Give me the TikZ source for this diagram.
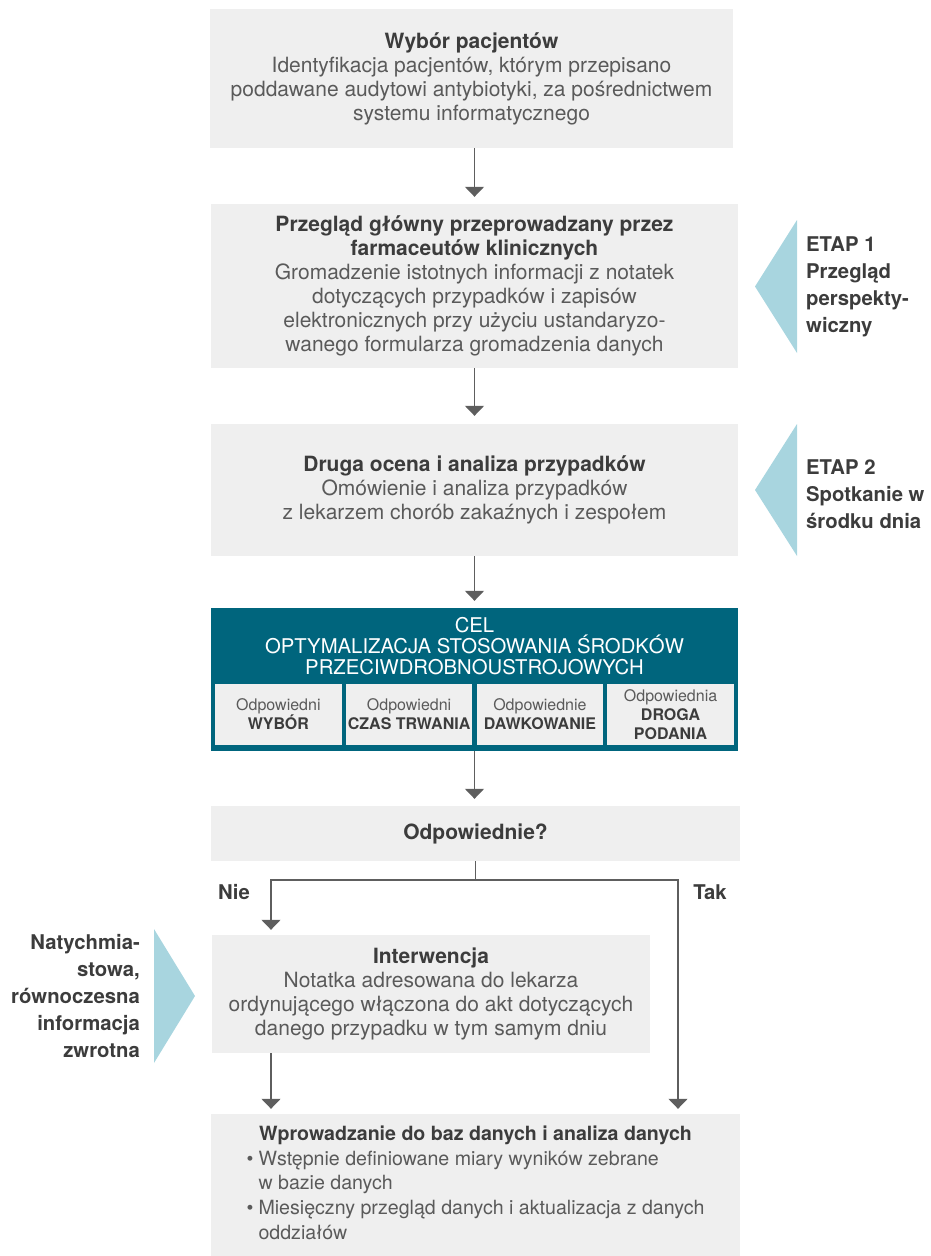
\documentclass[tikz,border=0pt]{standalone}
\usepackage{fontspec}
\setmainfont{TeX Gyre Heros}
\usepackage{xcolor}
\usepackage{tikz}
\usetikzlibrary{positioning,calc,arrows.meta}
\definecolor{boxgray}{HTML}{EFEFEF}
\definecolor{celteal}{HTML}{00657D}
\definecolor{stageblue}{HTML}{A8D5DF}
\definecolor{txtdark}{HTML}{3C3C3C}
\definecolor{txtbody}{HTML}{5A5A5A}
\definecolor{linegray}{HTML}{5E5E5E}
\newcommand{\boxtitle}[1]{{\color{txtdark}\bfseries #1}}

\begin{document}
\begin{tikzpicture}[x=1pt, y=-1pt,
  box/.style={fill=boxgray, inner sep=0pt, align=center, text=txtbody, font=\fontsize{21}{24}\selectfont},
  cell/.style={fill=boxgray, inner sep=0pt, align=center, minimum width=126.75pt, minimum height=61pt, text=txtbody, font=\fontsize{16}{19}\selectfont},
  sidetext/.style={inner sep=0pt, text=txtdark, font=\bfseries\fontsize{20.3}{27}\selectfont},
  flow/.style={draw=linegray, line width=1.4pt, -{Triangle[width=19pt,length=10pt]}, shorten >=7pt}]
  \useasboundingbox (0,0) rectangle (930,1256);

  % Main flow boxes
  \node[box, minimum width=523pt, minimum height=139pt] (pick) at (471.5,78.5)
    {\boxtitle{Wybór pacjentów}\\Identyfikacja pacjentów, którym przepisano\\poddawane audytowi antybiotyki, za pośrednictwem\\systemu informatycznego};
  \node[box, minimum width=527pt, minimum height=164pt] (review) at (474.5,286)
    {\boxtitle{Przegląd główny przeprowadzany przez}\\\boxtitle{farmaceutów klinicznych}\\Gromadzenie istotnych informacji z notatek\\dotyczących przypadków i zapisów\\elektronicznych przy użyciu ustandaryzo-\\wanego formularza gromadzenia danych};
  \node[box, minimum width=527pt, minimum height=132pt] (second) at (474.5,490)
    {\boxtitle{Druga ocena i analiza przypadków}\\Omówienie i analiza przypadków\\z lekarzem chorób zakaźnych i zespołem};

  % Goal block
  \node[fill=celteal, minimum width=527pt, minimum height=143pt, inner sep=0pt] (goal) at (474.5,679.5) {};
  \node[align=center, text=white, inner sep=0pt, font=\fontsize{20.3}{21}\selectfont] (goaltitle) at (474.5,646)
    {CEL\\OPTYMALIZACJA STOSOWANIA ŚRODKÓW\\PRZECIWDROBNOUSTROJOWYCH};
  \foreach \x/\nm/\txt in {278.4/cellA/Odpowiedni\\\boxtitle{WYBÓR},
                           409.1/cellB/Odpowiedni\\\boxtitle{CZAS TRWANIA},
                           539.9/cellC/Odpowiednie\\\boxtitle{DAWKOWANIE},
                           670.6/cellD/Odpowiednia\\\boxtitle{DROGA}\\\boxtitle{PODANIA}}
    \node[cell] (\nm) at (\x,714.5) {\txt};

  \node[box, minimum width=529pt, minimum height=55pt] (check) at (475.5,833.5)
    {\boxtitle{Odpowiednie?}};
  \node[box, minimum width=438pt, minimum height=118pt] (interv) at (431,994)
    {\boxtitle{Interwencja}\\Notatka adresowana do lekarza\\ordynującego włączona do akt dotyczących\\danego przypadku w tym samym dniu};
  \node[box, minimum width=529pt, minimum height=142pt, font=\fontsize{19.6}{24.6}\selectfont] (store) at (475.5,1185)
    {\begin{tabular}{@{}l@{}}
      \multicolumn{1}{c}{\boxtitle{Wprowadzanie do baz danych i analiza danych}}\\
      \makebox[12pt][l]{\textbullet}Wstępnie definiowane miary wyników zebrane\\
      \hspace*{12pt}w bazie danych\\
      \makebox[12pt][l]{\textbullet}Miesięczny przegląd danych i aktualizacja z danych\\
      \hspace*{12pt}oddziałów
    \end{tabular}};

  % Stage markers
  \fill[stageblue] (797,220) -- (797,353) -- (755,286.5) -- cycle;
  \fill[stageblue] (797,424) -- (797,556) -- (755,490) -- cycle;
  \fill[stageblue] (154,929) -- (154,1063) -- (195,996) -- cycle;
  \node[sidetext, anchor=west, align=left] (stage1) at (806,286.5)
    {ETAP 1\\Przegląd\\perspekty-\\wiczny};
  \node[sidetext, anchor=west, align=left] (stage2) at (806,494)
    {ETAP 2\\Spotkanie w\\środku dnia};
  \node[sidetext, anchor=east, align=right] (feedback) at (140,996)
    {Natychmia-\\stowa,\\równoczesna\\informacja\\zwrotna};

  % Connectors
  \draw[flow] (pick.south -| review.north) -- (review.north);
  \draw[flow, shorten >=8pt] (review.south) -- (second.north);
  \draw[flow] (second.south) -- (goal.north);
  \draw[flow] (goal.south) -- (goal.south |- check.north);
  \coordinate (nie) at (271,880);
  \coordinate (tak) at (678,880);
  \draw[flow, shorten >=5pt] (check.south) |- (nie) -- (nie |- interv.north);
  \draw[flow, shorten >=5pt] (check.south) |- (tak) -- (tak |- store.north);
  \draw[flow, shorten >=5pt] (interv.south -| nie) -- (store.north -| nie);
  \node[sidetext] (nielabel) at (234,892) {Nie};
  \node[sidetext] (taklabel) at (710,892) {Tak};
\end{tikzpicture}
\end{document}
